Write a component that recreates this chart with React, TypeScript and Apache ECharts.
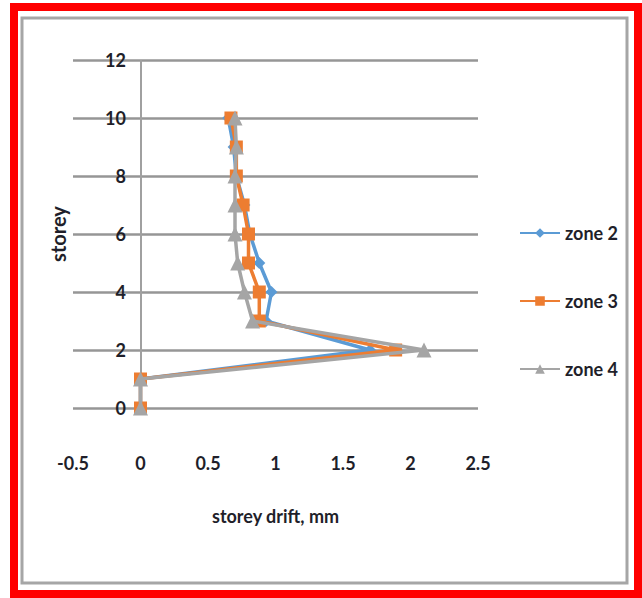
import React, { useEffect, useRef } from "react";
import * as echarts from "echarts";

const storeys = [0, 1, 2, 3, 4, 5, 6, 7, 8, 9, 10];
const zone2 = [0, 0, 1.7, 0.93, 0.97, 0.88, 0.81, 0.77, 0.71, 0.69, 0.65];
const zone3 = [0, 0, 1.89, 0.88, 0.88, 0.8, 0.8, 0.76, 0.71, 0.71, 0.67];
const zone4 = [0, 0, 2.1, 0.83, 0.77, 0.72, 0.7, 0.7, 0.7, 0.71, 0.7];
const seriesNames = ["zone 2", "zone 3", "zone 4"];
const colors = ["#5B9BD5", "#ED7D31", "#A5A5A5"];
const symbols = ["diamond", "rect", "triangle"];
const symbolSizes = [12, 13, 15];

const FONT = "Lato, 'Liberation Sans', sans-serif";
const TXT = "#1f1f2a";

export default function App() {
  const ref = useRef<HTMLDivElement>(null);
  useEffect(() => {
    document.body.style.margin = "0";
    if (!ref.current) return;
    const chart = echarts.init(ref.current, undefined, { renderer: "svg" });
    const all = [zone2, zone3, zone4];
    chart.setOption({
      animation: false,
      backgroundColor: "#ffffff",
      textStyle: { fontFamily: FONT },
      graphic: [
        {
          type: "rect",
          shape: { x: 14, y: 7, width: 624, height: 587 },
          style: { fill: "none", stroke: "#ff0000", lineWidth: 8 },
          silent: true,
        },
        {
          type: "rect",
          shape: { x: 22, y: 18, width: 605, height: 565 },
          style: { fill: "none", stroke: "#a6a6a6", lineWidth: 3 },
          silent: true,
        },
      ],
      grid: {
        left: 73,
        right: 164,
        top: 60,
        bottom: 190,
        containLabel: false,
        outerBoundsMode: "none",
      },
      legend: {
        orient: "vertical",
        left: 514,
        top: 219,
        itemGap: 50,
        itemWidth: 40,
        itemHeight: 12,
        textStyle: { fontFamily: FONT, fontSize: 18, fontWeight: "bold", color: TXT },
        data: seriesNames,
      },
      xAxis: {
        type: "value",
        min: -0.5,
        max: 2.5,
        interval: 0.5,
        name: "storey drift, mm",
        nameLocation: "middle",
        nameGap: 99,
        nameTextStyle: { fontFamily: FONT, fontSize: 18, fontWeight: "bold", color: TXT },
        axisLine: { show: false },
        axisTick: { show: false },
        splitLine: { show: false },
        axisLabel: { margin: 46, fontFamily: FONT, fontSize: 18, fontWeight: "bold", color: TXT },
      },
      yAxis: {
        type: "value",
        min: 0,
        max: 12,
        interval: 2,
        name: "storey",
        nameLocation: "middle",
        nameGap: 5,
        nameTextStyle: { fontFamily: FONT, fontSize: 20, fontWeight: "bold", color: TXT },
        axisLine: { show: false },
        axisTick: { show: false },
        splitLine: { show: true, lineStyle: { color: "#969696", width: 2.5 } },
        axisLabel: { margin: -53, fontFamily: FONT, fontSize: 18, fontWeight: "bold", color: TXT },
      },
      series: seriesNames.map((name, i) => ({
        name,
        type: "line",
        data: storeys.map((s, k) => [all[i][k], s]),
        symbol: symbols[i],
        symbolSize: symbolSizes[i],
        lineStyle: { color: colors[i], width: 3.5 },
        itemStyle: { color: colors[i] },
        z: 3 + i,
        markLine:
          i === 0
            ? {
                silent: true,
                symbol: "none",
                label: { show: false },
                z: 1,
                lineStyle: { color: "#a0a0a0", width: 2, type: "solid" },
                data: [{ xAxis: 0 }],
              }
            : undefined,
      })),
    });
    return () => chart.dispose();
  }, []);
  return <div ref={ref} style={{ position: "absolute", left: 0, top: 0, width: 642, height: 598 }} />;
}
